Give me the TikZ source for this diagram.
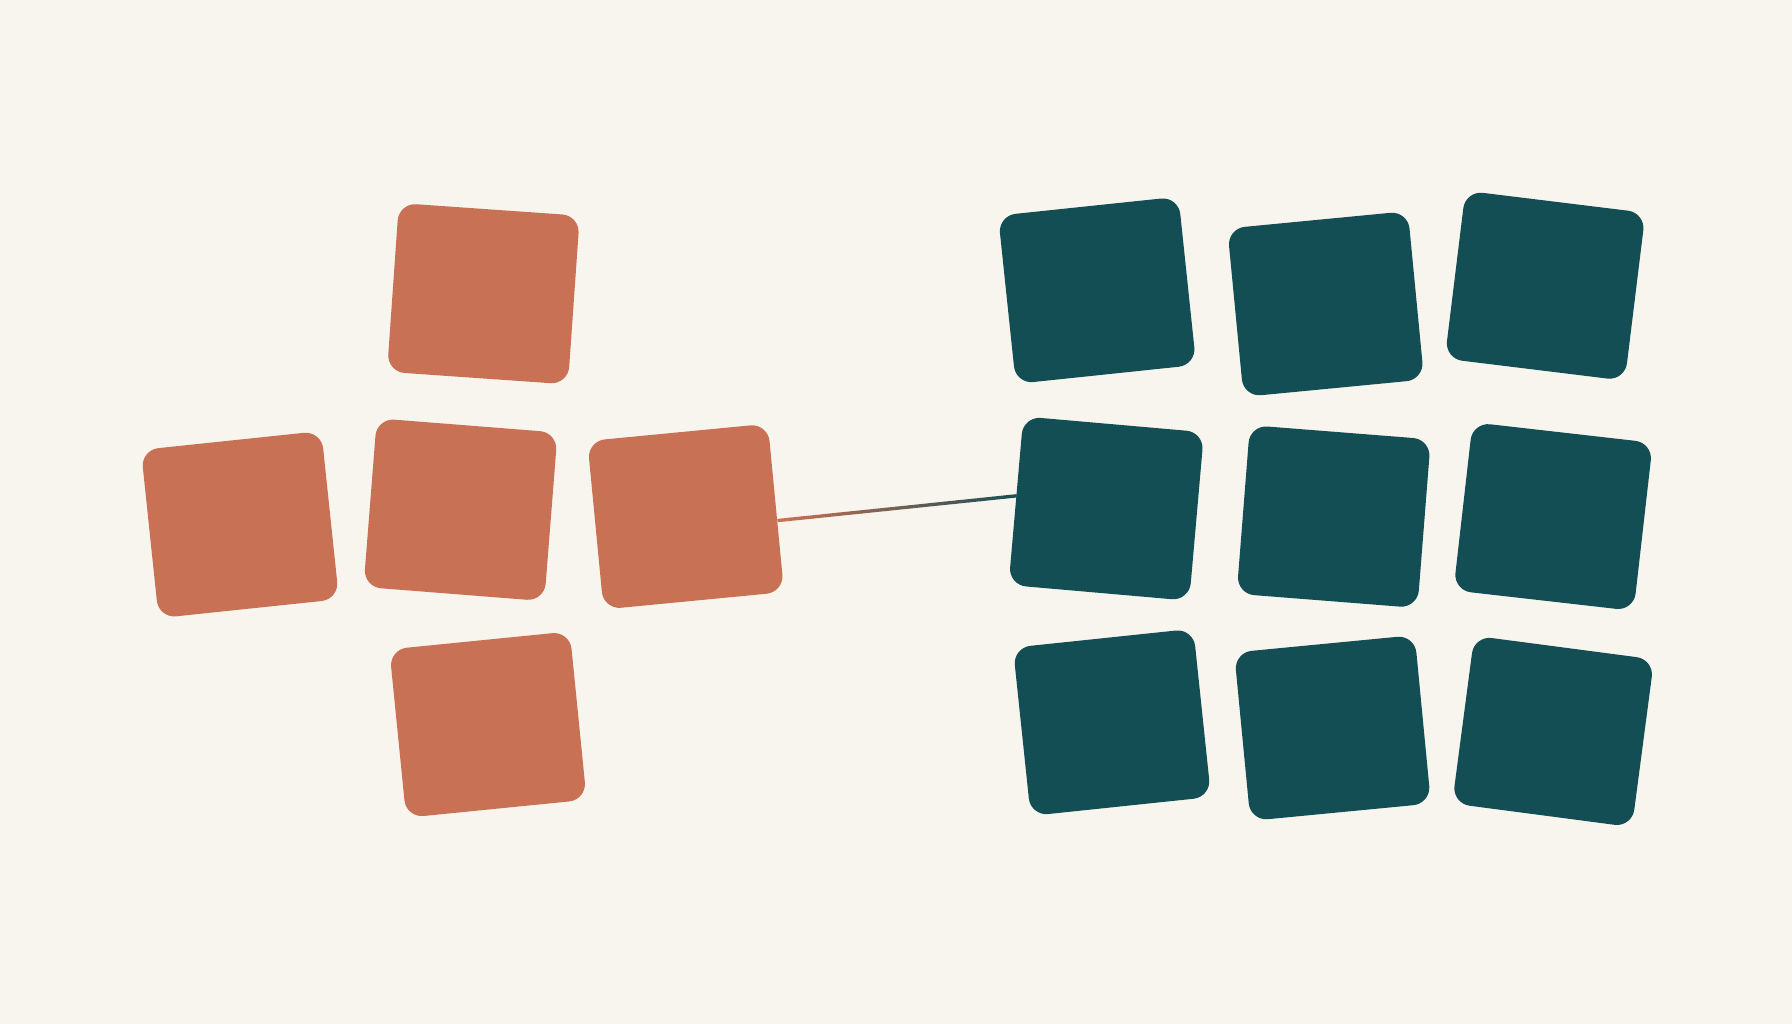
\documentclass[tikz,border=0pt]{standalone}
\usetikzlibrary{calc}

\definecolor{paper}{HTML}{F8F5EE}
\definecolor{clay}{HTML}{C87154}
\definecolor{pine}{HTML}{134E55}

\tikzset{
  tile/.style={inner sep=0pt, minimum width=119pt, minimum height=111pt, rounded corners=11.5pt, draw=none},
  claytile/.style={tile, fill=clay},
  pinetile/.style={tile, fill=pine},
  link/.style={line width=2.2pt, line cap=butt}
}

\begin{document}
\begin{tikzpicture}[x=0.75pt,y=0.75pt,yscale=-1,xscale=1]
%background, sets the page size
\fill [paper] (0,0) rectangle (1568,896) ;

%Shape: left group (clay)
\node [claytile, rotate=-4]   (o1) at (423,257) {};
\node [claytile, rotate=6]    (o2) at (210,459) {};
\node [claytile, rotate=-4.5] (o3) at (403,446) {};
\node [claytile, rotate=5.5]  (o4) at (600,452) {};
\node [claytile, rotate=5.7]  (o5) at (427,634) {};

%Shape: right group (pine), row 1
\node [pinetile, rotate=6]    (t11) at (960,254) {};
\node [pinetile, rotate=5.5]  (t12) at (1160,266) {};
\node [pinetile, rotate=-7]   (t13) at (1352,250) {};
%row 2
\node [pinetile, rotate=-5]   (t21) at (968,445) {};
\node [pinetile, rotate=-4.5] (t22) at (1167,452) {};
\node [pinetile, rotate=-6.5] (t23) at (1359,452) {};
%row 3
\node [pinetile, rotate=6]    (t31) at (973,632) {};
\node [pinetile, rotate=5.5]  (t32) at (1166,637) {};
\node [pinetile, rotate=-7.5] (t33) at (1359,640) {};

%Connector: clay to pine
\foreach \i [evaluate=\i as \p using {int(100-5*\i)}, evaluate=\i as \j using {\i+1.05}] in {0,...,19}
  \draw [link, clay!\p!pine] ($(o4.-8)!\i/20!(t21.177)$) -- ($(o4.-8)!\j/20!(t21.177)$) ;
\end{tikzpicture}
\end{document}
